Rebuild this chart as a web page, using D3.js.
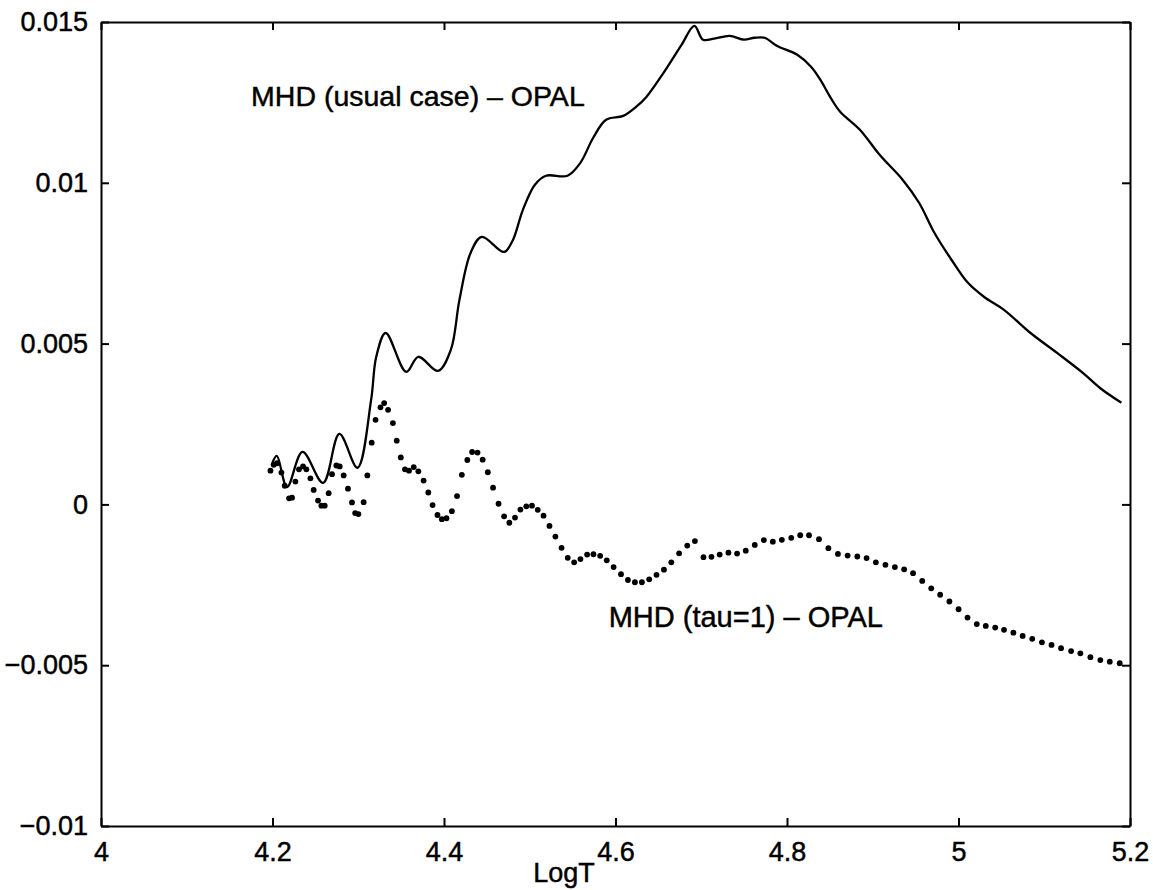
<!DOCTYPE html>
<html>
<head>
<meta charset="utf-8">
<script src="https://cdn.jsdelivr.net/npm/d3@7"></script>
<style>
  body { margin: 0; background: #fff; }
  svg { display: block; font-family: "Liberation Sans", Arial, sans-serif; }
</style>
</head>
<body>
<svg></svg>
<script>
// MHD (usual case) - OPAL, solid curve
var usualT = [4.199, 4.205, 4.217, 4.235, 4.259, 4.278, 4.299, 4.315, 4.321, 4.332,
  4.356, 4.370, 4.393, 4.408, 4.418, 4.431, 4.444, 4.470, 4.480, 4.492,
  4.506, 4.519, 4.544, 4.559, 4.574, 4.589, 4.609, 4.624, 4.636, 4.656,
  4.677, 4.692, 4.702, 4.715, 4.733, 4.750, 4.762, 4.774, 4.788, 4.812,
  4.828, 4.839, 4.851, 4.862, 4.885, 4.908, 4.935, 4.954, 4.972, 4.992,
  5.011, 5.030, 5.053, 5.084, 5.115, 5.145, 5.165, 5.190];
var usualDiff = [1.23, 1.51, 0.54, 1.63, 0.67, 2.19, 1.14, 3.25, 4.59, 5.33,
  4.12, 4.59, 4.15, 4.81, 6.36, 7.82, 8.32, 7.85, 8.20, 9.16,
  9.94, 10.22, 10.22, 10.62, 11.40, 11.96, 12.08, 12.36, 12.67, 13.42,
  14.29, 14.88, 14.45, 14.48, 14.57, 14.45, 14.51, 14.51, 14.26, 13.98,
  13.61, 13.20, 12.64, 12.21, 11.65, 10.87, 10.09, 9.38, 8.44, 7.60,
  6.89, 6.45, 6.05, 5.33, 4.71, 4.09, 3.62, 3.16]; // x 1e-3

// MHD (tau=1) - OPAL, dotted curve
var tauT = [4.1976, 4.2014, 4.2052, 4.2104, 4.2143, 4.2193, 4.2228, 4.2267, 4.2309, 4.2356,
  4.2395, 4.2442, 4.2480, 4.2531, 4.2570, 4.2609, 4.2655, 4.2694, 4.2745, 4.2784,
  4.2830, 4.2880, 4.2927, 4.2964, 4.3002, 4.3063, 4.3106, 4.3157, 4.3202, 4.3259,
  4.3302, 4.3348, 4.3404, 4.3449, 4.3496, 4.3545, 4.3592, 4.3647, 4.3701, 4.3762,
  4.3817, 4.3867, 4.3924, 4.3975, 4.4029, 4.4092, 4.4152, 4.4208, 4.4272, 4.4328,
  4.4391, 4.4451, 4.4511, 4.4572, 4.4636, 4.4701, 4.4762, 4.4828, 4.4891, 4.4960,
  4.5026, 4.5093, 4.5161, 4.5230, 4.5299, 4.5371, 4.5443, 4.5518, 4.5591, 4.5669,
  4.5743, 4.5821, 4.5898, 4.5978, 4.6064, 4.6145, 4.6226, 4.6308, 4.6393, 4.6478,
  4.6565, 4.6651, 4.6742, 4.6837, 4.6926, 4.7026, 4.7119, 4.7215, 4.7317, 4.7418,
  4.7519, 4.7624, 4.7730, 4.7835, 4.7940, 4.8050, 4.8154, 4.8257, 4.8373, 4.8483,
  4.8594, 4.8707, 4.8820, 4.8928, 4.9036, 4.9148, 4.9258, 4.9366, 4.9470, 4.9577,
  4.9682, 4.9786, 4.9894, 5.0001, 5.0105, 5.0213, 5.0318, 5.0428, 5.0531, 5.0640,
  5.0748, 5.0860, 5.0973, 5.1085, 5.1196, 5.1313, 5.1421, 5.1538, 5.1654, 5.1764,
  5.1880];
var tauDiff = [1.05, 1.23, 1.28, 0.99, 0.58, 0.19, 0.21, 0.71, 1.09, 1.18,
  1.09, 0.81, 0.45, 0.12, -0.04, -0.04, 0.35, 0.94, 1.21, 1.18,
  0.90, 0.49, 0.06, -0.27, -0.30, 0.07, 0.90, 1.92, 2.63, 3.02,
  3.15, 2.94, 2.53, 1.98, 1.46, 1.09, 1.05, 1.16, 1.03, 0.74,
  0.37, -0.02, -0.33, -0.46, -0.43, -0.21, 0.26, 0.92, 1.38, 1.63,
  1.61, 1.39, 1.00, 0.52, 0.02, -0.37, -0.57, -0.41, -0.16, -0.06,
  -0.04, -0.17, -0.35, -0.67, -1.00, -1.35, -1.66, -1.80, -1.70, -1.56,
  -1.55, -1.60, -1.74, -1.95, -2.17, -2.35, -2.42, -2.42, -2.33, -2.19,
  -2.03, -1.80, -1.52, -1.28, -1.14, -1.64, -1.63, -1.56, -1.50, -1.53,
  -1.44, -1.26, -1.11, -1.16, -1.10, -1.04, -0.96, -0.96, -1.08, -1.36,
  -1.54, -1.59, -1.62, -1.67, -1.80, -1.88, -1.95, -2.02, -2.14, -2.38,
  -2.61, -2.81, -3.02, -3.26, -3.52, -3.72, -3.78, -3.83, -3.90, -3.99,
  -4.09, -4.18, -4.29, -4.37, -4.47, -4.56, -4.63, -4.75, -4.84, -4.89,
  -4.94]; // x 1e-3

var xTicks = [4, 4.2, 4.4, 4.6, 4.8, 5, 5.2];
var yTicks = [-0.01, -0.005, 0, 0.005, 0.01, 0.015];
var yTickLabels = ["\u22120.01", "\u22120.005", "0", "0.005", "0.01", "0.015"];

//measurements
var screen = {width: 1153, height: 890};
var margins = {top: 22, left: 101, right: 23, bottom: 64};
var width = screen.width - margins.left - margins.right;
var height = screen.height - margins.top - margins.bottom;

var svg = d3.select("svg")
            .attr("width", screen.width)
            .attr("height", screen.height);

var plot = svg.append("g")
              .attr("transform", "translate(" + margins.left + "," + margins.top + ")");

//scales
var xScale = d3.scaleLinear()
               .domain([4, 5.2])
               .range([0, width]);

var yScale = d3.scaleLinear()
               .domain([-0.01, 0.015])
               .range([height, 0]);

//scanned print look: text a touch heavier
var inkText = function(sel, size)
{
  sel.attr("font-size", size)
     .attr("fill", "#000")
     .attr("stroke", "#000")
     .attr("stroke-width", 0.45);
};

//axes (ticks point inward on all four sides)
var styleAxis = function(g)
{
  g.select(".domain").attr("stroke-width", 2);
  g.selectAll(".tick line").attr("stroke-width", 2);
  g.selectAll("text").call(inkText, 27);
};

plot.append("g")
    .attr("transform", "translate(0," + height + ")")
    .call(d3.axisBottom(xScale).tickValues(xTicks).tickSize(-8).tickSizeOuter(0)
            .tickPadding(16).tickFormat(d3.format("~g")))
    .call(styleAxis);

plot.append("g")
    .call(d3.axisTop(xScale).tickValues(xTicks).tickSize(-8).tickSizeOuter(0)
            .tickFormat(""))
    .call(styleAxis);

plot.append("g")
    .call(d3.axisLeft(yScale).tickValues(yTicks).tickSize(-8).tickSizeOuter(0)
            .tickPadding(13).tickFormat(function(d, i){return yTickLabels[i]}))
    .call(styleAxis);

plot.append("g")
    .attr("transform", "translate(" + width + ",0)")
    .call(d3.axisRight(yScale).tickValues(yTicks).tickSize(-8).tickSizeOuter(0)
            .tickFormat(""))
    .call(styleAxis);

//solid curve
var usual = usualT.map(function(t, i){return {t: t, v: usualDiff[i] / 1000}});

var line = d3.line()
             .x(function(d){return xScale(d.t)})
             .y(function(d){return yScale(d.v)})
             .curve(d3.curveCatmullRom.alpha(0.5));

plot.append("path")
    .datum(usual)
    .attr("d", line)
    .attr("fill", "none")
    .attr("stroke", "#000")
    .attr("stroke-width", 2.3)
    .attr("stroke-linejoin", "round");

//dotted curve
var tau = tauT.map(function(t, i){return {t: t, v: tauDiff[i] / 1000}});

plot.selectAll(".dot")
    .data(tau)
    .enter()
    .append("circle")
    .attr("class", "dot")
    .attr("cx", function(d){return xScale(d.t)})
    .attr("cy", function(d){return yScale(d.v)})
    .attr("r", 2.9)
    .attr("fill", "#000");

//labels
plot.append("text")
    .attr("x", xScale(4.175))
    .attr("y", yScale(0.0124))
    .call(inkText, 28.5)
    .text("MHD (usual case) \u2013 OPAL");

plot.append("text")
    .attr("x", xScale(4.592))
    .attr("y", yScale(-0.0038))
    .call(inkText, 29)
    .text("MHD (tau=1) \u2013 OPAL");

svg.append("text")
   .attr("x", margins.left + xScale(4.54))
   .attr("y", 882)
   .attr("text-anchor", "middle")
   .call(inkText, 27)
   .text("LogT");
</script>
</body>
</html>
